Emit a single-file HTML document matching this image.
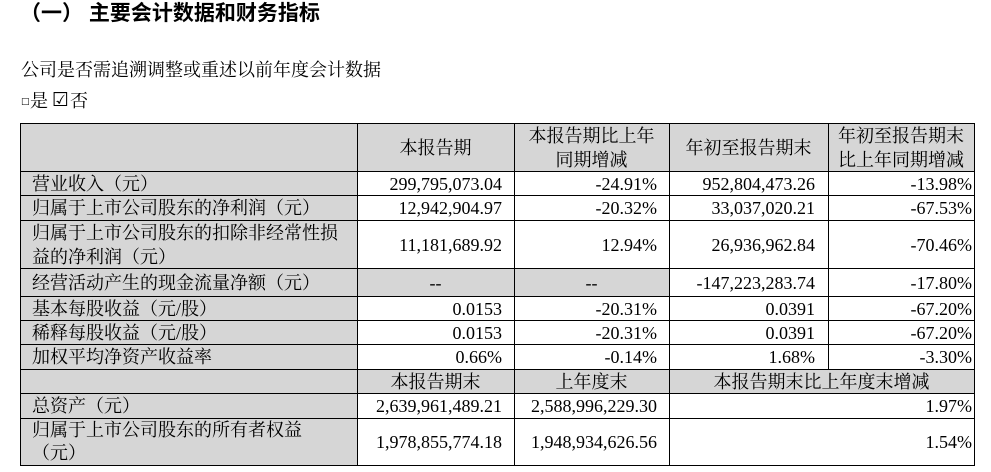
<!DOCTYPE html>
<html>
<head>
<meta charset="utf-8">
<style>
  html,body{margin:0;padding:0;background:#fff;}
  body{width:991px;height:472px;position:relative;overflow:hidden;
       font-family:"Liberation Serif","Noto Serif CJK SC",serif;color:#000;}
  .t{position:absolute;white-space:nowrap;}
  .c{position:absolute;display:flex;align-items:center;box-sizing:border-box;
     font-size:18px;line-height:24px;white-space:nowrap;}
  .g{background:#d6d6d6;}
  .l{justify-content:flex-start;padding-left:12px;}
  .m{justify-content:center;text-align:center;}
  .r{justify-content:flex-end;}
  .h{position:absolute;height:1px;background:#000;left:20px;width:955px;}
  .v{position:absolute;width:1px;background:#000;}
</style>
</head>
<body>

<div class="t" style="left:20px;top:0px;font-family:'Liberation Sans','Noto Sans CJK SC',sans-serif;font-weight:700;font-size:21px;line-height:28px;">（一） 主要会计数据和财务指标</div>

<div class="t" style="left:21px;top:58px;font-size:18px;line-height:24px;">公司是否需追溯调整或重述以前年度会计数据</div>

<div class="t" style="left:21px;top:96px;font-family:'DejaVu Sans',sans-serif;font-size:9px;line-height:12px;">□</div>
<div class="t" style="left:30px;top:89px;font-size:18px;line-height:24px;">是</div>
<div class="t" style="left:52px;top:88px;font-family:'DejaVu Sans',sans-serif;font-size:19px;line-height:24px;">☑</div>
<div class="t" style="left:70px;top:89px;font-size:18px;line-height:24px;">否</div>

<!-- backgrounds -->
<div class="g" style="position:absolute;left:20px;top:123px;width:955px;height:48px;"></div>
<div class="g" style="position:absolute;left:20px;top:123px;width:337px;height:342px;"></div>
<div class="g" style="position:absolute;left:357px;top:268px;width:312px;height:28px;"></div>
<div class="g" style="position:absolute;left:20px;top:369px;width:955px;height:24px;"></div>

<!-- header row 123-171 -->
<div class="c m" style="left:357px;top:124px;width:157px;height:47px;">本报告期</div>
<div class="c m" style="left:514px;top:124px;width:155px;height:47px;">本报告期比上年<br>同期增减</div>
<div class="c m" style="left:669px;top:124px;width:159px;height:47px;">年初至报告期末</div>
<div class="c m" style="left:828px;top:124px;width:146px;height:47px;">年初至报告期末<br>比上年同期增减</div>

<!-- row 1: 171-195 -->
<div class="c l" style="left:20px;top:172px;width:337px;height:23px;">营业收入（元）</div>
<div class="c r" style="left:357px;top:172px;width:157px;height:23px;padding-right:12px;">299,795,073.04</div>
<div class="c r" style="left:514px;top:172px;width:155px;height:23px;padding-right:12px;">-24.91%</div>
<div class="c r" style="left:669px;top:172px;width:159px;height:23px;padding-right:13px;">952,804,473.26</div>
<div class="c r" style="left:828px;top:172px;width:146px;height:23px;padding-right:2px;">-13.98%</div>

<!-- row 2: 195-220 -->
<div class="c l" style="left:20px;top:196px;width:337px;height:24px;">归属于上市公司股东的净利润（元）</div>
<div class="c r" style="left:357px;top:196px;width:157px;height:24px;padding-right:12px;">12,942,904.97</div>
<div class="c r" style="left:514px;top:196px;width:155px;height:24px;padding-right:12px;">-20.32%</div>
<div class="c r" style="left:669px;top:196px;width:159px;height:24px;padding-right:13px;">33,037,020.21</div>
<div class="c r" style="left:828px;top:196px;width:146px;height:24px;padding-right:2px;">-67.53%</div>

<!-- row 3: 220-268 -->
<div class="c l" style="left:20px;top:221px;width:337px;height:47px;">归属于上市公司股东的扣除非经常性损<br>益的净利润（元）</div>
<div class="c r" style="left:357px;top:221px;width:157px;height:47px;padding-right:12px;">11,181,689.92</div>
<div class="c r" style="left:514px;top:221px;width:155px;height:47px;padding-right:12px;">12.94%</div>
<div class="c r" style="left:669px;top:221px;width:159px;height:47px;padding-right:13px;">26,936,962.84</div>
<div class="c r" style="left:828px;top:221px;width:146px;height:47px;padding-right:2px;">-70.46%</div>

<!-- row 4: 268-296 -->
<div class="c l" style="left:20px;top:269px;width:337px;height:27px;">经营活动产生的现金流量净额（元）</div>
<div class="c m" style="left:357px;top:269px;width:157px;height:27px;">--</div>
<div class="c m" style="left:514px;top:269px;width:155px;height:27px;">--</div>
<div class="c r" style="left:669px;top:269px;width:159px;height:27px;padding-right:13px;">-147,223,283.74</div>
<div class="c r" style="left:828px;top:269px;width:146px;height:27px;padding-right:2px;">-17.80%</div>

<!-- row 5: 296-320 -->
<div class="c l" style="left:20px;top:297px;width:337px;height:23px;">基本每股收益（元/股）</div>
<div class="c r" style="left:357px;top:297px;width:157px;height:23px;padding-right:12px;">0.0153</div>
<div class="c r" style="left:514px;top:297px;width:155px;height:23px;padding-right:12px;">-20.31%</div>
<div class="c r" style="left:669px;top:297px;width:159px;height:23px;padding-right:13px;">0.0391</div>
<div class="c r" style="left:828px;top:297px;width:146px;height:23px;padding-right:2px;">-67.20%</div>

<!-- row 6: 320-344 -->
<div class="c l" style="left:20px;top:321px;width:337px;height:23px;">稀释每股收益（元/股）</div>
<div class="c r" style="left:357px;top:321px;width:157px;height:23px;padding-right:12px;">0.0153</div>
<div class="c r" style="left:514px;top:321px;width:155px;height:23px;padding-right:12px;">-20.31%</div>
<div class="c r" style="left:669px;top:321px;width:159px;height:23px;padding-right:13px;">0.0391</div>
<div class="c r" style="left:828px;top:321px;width:146px;height:23px;padding-right:2px;">-67.20%</div>

<!-- row 7: 344-369 -->
<div class="c l" style="left:20px;top:345px;width:337px;height:24px;">加权平均净资产收益率</div>
<div class="c r" style="left:357px;top:345px;width:157px;height:24px;padding-right:12px;">0.66%</div>
<div class="c r" style="left:514px;top:345px;width:155px;height:24px;padding-right:12px;">-0.14%</div>
<div class="c r" style="left:669px;top:345px;width:159px;height:24px;padding-right:13px;">1.68%</div>
<div class="c r" style="left:828px;top:345px;width:146px;height:24px;padding-right:2px;">-3.30%</div>

<!-- row 8 subheader: 369-393 -->
<div class="c m" style="left:357px;top:370px;width:157px;height:23px;">本报告期末</div>
<div class="c m" style="left:514px;top:370px;width:155px;height:23px;">上年度末</div>
<div class="c m" style="left:669px;top:370px;width:305px;height:23px;">本报告期末比上年度末增减</div>

<!-- row 9: 393-418 -->
<div class="c l" style="left:20px;top:394px;width:337px;height:24px;">总资产（元）</div>
<div class="c r" style="left:357px;top:394px;width:157px;height:24px;padding-right:12px;">2,639,961,489.21</div>
<div class="c r" style="left:514px;top:394px;width:155px;height:24px;padding-right:12px;">2,588,996,229.30</div>
<div class="c r" style="left:669px;top:394px;width:305px;height:24px;padding-right:2px;">1.97%</div>

<!-- row 10: 418-465 -->
<div class="c l" style="left:20px;top:419px;width:337px;height:46px;line-height:23px;">归属于上市公司股东的所有者权益<br>（元）</div>
<div class="c r" style="left:357px;top:419px;width:157px;height:46px;padding-right:12px;">1,978,855,774.18</div>
<div class="c r" style="left:514px;top:419px;width:155px;height:46px;padding-right:12px;">1,948,934,626.56</div>
<div class="c r" style="left:669px;top:419px;width:305px;height:46px;padding-right:2px;">1.54%</div>

<!-- horizontal lines -->
<div class="h" style="top:123px;"></div>
<div class="h" style="top:171px;"></div>
<div class="h" style="top:195px;"></div>
<div class="h" style="top:220px;"></div>
<div class="h" style="top:268px;"></div>
<div class="h" style="top:296px;"></div>
<div class="h" style="top:320px;"></div>
<div class="h" style="top:344px;"></div>
<div class="h" style="top:369px;"></div>
<div class="h" style="top:393px;"></div>
<div class="h" style="top:418px;"></div>
<div class="h" style="top:465px;"></div>

<!-- vertical lines -->
<div class="v" style="left:20px;top:123px;height:343px;"></div>
<div class="v" style="left:357px;top:123px;height:343px;"></div>
<div class="v" style="left:514px;top:123px;height:343px;"></div>
<div class="v" style="left:669px;top:123px;height:343px;"></div>
<div class="v" style="left:828px;top:123px;height:246px;"></div>
<div class="v" style="left:974px;top:123px;height:343px;"></div>

</body>
</html>
